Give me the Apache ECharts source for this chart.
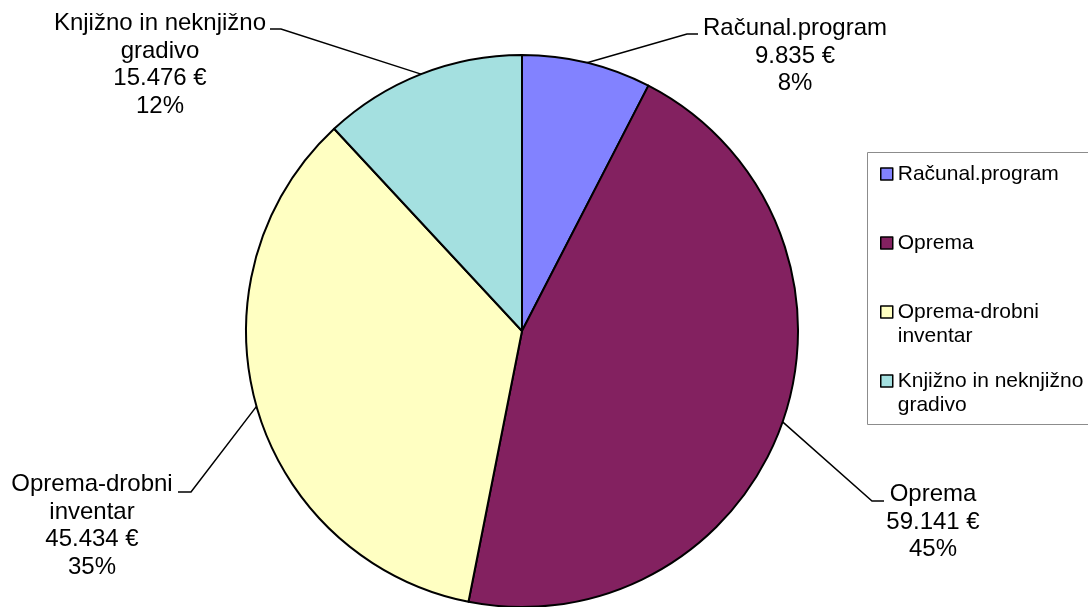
<!DOCTYPE html>
<html><head><meta charset="utf-8">
<script src="https://cdn.jsdelivr.net/npm/echarts@6/dist/echarts.min.js"></script>
<style>html,body{margin:0;padding:0;background:#fff}#c{width:1088px;height:607px}</style>
</head><body><div id="c"></div>
<script>
// ---- data ----
const categories = ['Računal.program', 'Oprema', 'Oprema-drobni inventar', 'Knjižno in neknjižno gradivo'];
const values = [9835, 59141, 45434, 15476];
const wrappedNames = ['Računal.program', 'Oprema', 'Oprema-drobni\ninventar', 'Knjižno in neknjižno\ngradivo'];

// ---- styling / layout ----
const colors = ['#8282FF', '#832160', '#FFFFC2', '#A4E0E0'];
const labelAnchors = [[795, 15], [933, 481], [92, 471], [160, 10]];
const leaderBends = [[[687, 34], [698, 34]], [[872, 501], [884, 501]], [[191, 492], [178, 492]], [[281, 29], [270, 29]]];
const FONT = 'Liberation Sans, Arial, sans-serif';
const CX = 522, CY = 331, R = 276;

function fmtNum(v) { return String(v).replace(/\B(?=(\d{3})+(?!\d))/g, '.'); }

const chart = echarts.init(document.getElementById('c'), null, { renderer: 'canvas' });
const total = values.reduce((a, b) => a + b, 0);

chart.setOption({
  backgroundColor: '#fff',
  animation: false,
  color: colors,
  graphic: [{
    type: 'rect', silent: true, z: -1,
    shape: { x: 867.5, y: 152.5, width: 230, height: 272 },
    style: { fill: '#fff', stroke: '#8c8c8c', lineWidth: 1 }
  }],
  legend: {
    orient: 'vertical', left: 880, top: 138, padding: 0,
    itemWidth: 12, itemHeight: 12, itemGap: -3,
    icon: 'rect',
    itemStyle: { borderColor: '#000', borderWidth: 1.5 },
    textStyle: { fontFamily: FONT, fontSize: 21, lineHeight: 24, color: '#000' },
    data: categories.slice(),
    formatter: name => {
      const w = wrappedNames[categories.indexOf(name)];
      // blank line above so the first text line sits beside the marker
      return w.indexOf('\n') >= 0 ? ' \n' + w : ' \n' + w + '\n ';
    }
  },
  series: [{
    type: 'pie',
    center: [CX, CY],
    radius: R,
    startAngle: 90,
    clockwise: true,
    percentPrecision: 0,
    avoidLabelOverlap: false,
    data: categories.map((n, i) => ({ name: n, value: values[i] })),
    itemStyle: { borderColor: '#000', borderWidth: 2 },
    emphasis: { disabled: true },
    label: {
      show: true, position: 'outside',
      fontFamily: FONT, fontSize: 24, lineHeight: 27.5, color: '#000', align: 'center',
      formatter: p => wrappedNames[p.dataIndex] + '\n' + fmtNum(p.value) + ' €\n' + p.percent + '%'
    },
    labelLine: { show: true, smooth: false, lineStyle: { color: '#000', width: 1.5 } },
    labelLayout: function (params) {
      const i = params.dataIndex;
      const a = labelAnchors[i], b = leaderBends[i];
      let start;
      if (params.labelLinePoints && params.labelLinePoints[0]) {
        start = params.labelLinePoints[0];
      } else {
        let before = 0;
        for (let k = 0; k < i; k++) before += values[k];
        const mid = (before + values[i] / 2) / total * 2 * Math.PI;
        start = [CX + R * Math.sin(mid), CY - R * Math.cos(mid)];
      }
      return { x: a[0], y: a[1], align: 'center', verticalAlign: 'top', labelLinePoints: [start, b[0], b[1]] };
    }
  }]
});
</script>
</body></html>
